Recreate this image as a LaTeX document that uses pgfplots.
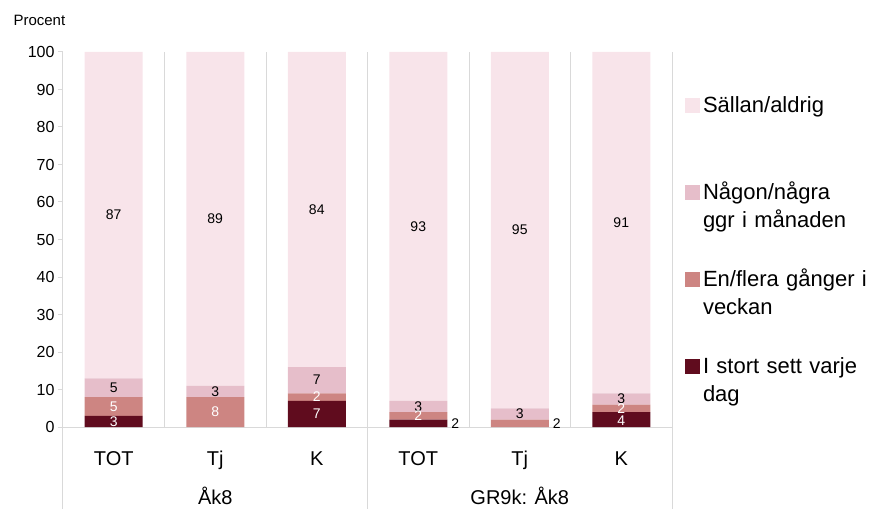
\documentclass[border=0pt]{standalone}
\usepackage{pgfplots}
\pgfplotsset{compat=1.18}
\usepackage{fontspec}
\setmainfont{Liberation Sans}
\definecolor{cS}{RGB}{248,228,234}
\definecolor{cN}{RGB}{230,190,202}
\definecolor{cE}{RGB}{205,133,130}
\definecolor{cI}{RGB}{96,12,30}
\definecolor{gridc}{RGB}{217,217,217}
\begin{document}
\begin{tikzpicture}
\pgfplotsset{
  common/.style={
    scale only axis, width=609pt, height=375pt,
    at={(0,0)}, anchor=south west,
    xmin=-0.5, xmax=5.5, ymin=0, ymax=100,
  },
  sq/.style={legend image code/.code={\fill[##1] (0pt,17pt) rectangle (15pt,32pt);}},
}
\begin{axis}[common,
  ybar stacked, bar width=58pt,
  axis x line*=bottom, axis y line*=left,
  axis line style={gridc, line width=1pt},
  xtick={0,...,5},
  xticklabels={TOT,Tj,K,TOT,Tj,K},
  xtick style={draw=none},
  xticklabel style={font=\fontsize{20}{24}\selectfont, anchor=base, yshift=-33pt},
  extra x ticks={0.5,1.5,2.5,3.5,4.5,5.5},
  extra x tick labels={},
  extra x tick style={grid=major, major grid style={gridc, line width=1pt}, tick style={draw=none}},
  ytick={0,10,...,100},
  ytick style={gridc, line width=1pt},
  tick align=outside, major tick length=5pt,
  yticklabel style={font=\fontsize{16}{19}\selectfont},
  /pgf/number format/assume math mode=true,
  clip=false,
  reverse legend,
  legend cell align=left,
  legend style={at={(1,1)}, anchor=north west, xshift=13pt, yshift=-43pt,
    draw=none, fill=none, inner sep=0pt, outer sep=0pt,
    row sep=17pt, column sep=3pt,
    font=\fontsize{22}{28}\selectfont,
    nodes={inner sep=0pt, align=left, text width=175pt, text height=17pt, text depth=53pt}},
]
\addplot[fill=cI, draw=none, sq] coordinates {(0,3) (1,0) (2,7) (3,2) (4,0) (5,4)};
\addlegendentry{I stort sett varje\\dag}
\addplot[fill=cE, draw=none, sq] coordinates {(0,5) (1,8) (2,2) (3,2) (4,2) (5,2)};
\addlegendentry{En/flera gånger i\\veckan}
\addplot[fill=cN, draw=none, sq] coordinates {(0,5) (1,3) (2,7) (3,3) (4,3) (5,3)};
\addlegendentry{Någon/några\\ggr i månaden}
\addplot[fill=cS, draw=none, sq] coordinates {(0,87) (1,89) (2,84) (3,93) (4,95) (5,91)};
\addlegendentry{Sällan/aldrig}
\draw[gridc, line width=1pt] (axis cs:-0.5,0) -- ++(0pt,-82pt);
\draw[gridc, line width=1pt] (axis cs:2.5,0) -- ++(0pt,-82pt);
\draw[gridc, line width=1pt] (axis cs:5.5,0) -- ++(0pt,-82pt);
\node[anchor=base, font=\fontsize{20}{24}\selectfont, yshift=-77pt] at (axis cs:1,0) {Åk8};
\node[anchor=base, font=\fontsize{20}{24}\selectfont, yshift=-77pt] at (axis cs:4,0) {GR9k: Åk8};
\node[anchor=west, font=\fontsize{15}{18}\selectfont, xshift=-53pt, yshift=32pt] at (rel axis cs:0,1) {Procent};
\end{axis}
\begin{axis}[common, hide axis, clip=false]
\addplot[draw=none, mark=none, nodes near coords, point meta=explicit symbolic,
  every node near coord/.append style={anchor=center, font=\fontsize{14}{17}\selectfont, text=black}]
  coordinates {(0,56.5)[87] (1,55.5)[89] (2,58)[84] (3,53.5)[93] (4,52.5)[95] (5,54.5)[91]
  (0,10.5)[5] (1,9.5)[3] (2,12.5)[7] (3,5.5)[3] (4,3.5)[3] (5,7.5)[3]
  (3.365,1)[2] (4.365,1)[2]};
\addplot[draw=none, mark=none, nodes near coords, point meta=explicit symbolic,
  every node near coord/.append style={anchor=center, font=\fontsize{14}{17}\selectfont, text=white}]
  coordinates {(0,5.5)[5] (1,4)[8] (2,8)[2] (3,3)[2] (5,5)[2] (0,1.5)[3] (2,3.5)[7] (5,1.8)[4]};
\end{axis}
\pgfresetboundingbox
\path[use as bounding box] (-63pt,-82pt) rectangle (813pt,427pt);
\end{tikzpicture}
\end{document}
